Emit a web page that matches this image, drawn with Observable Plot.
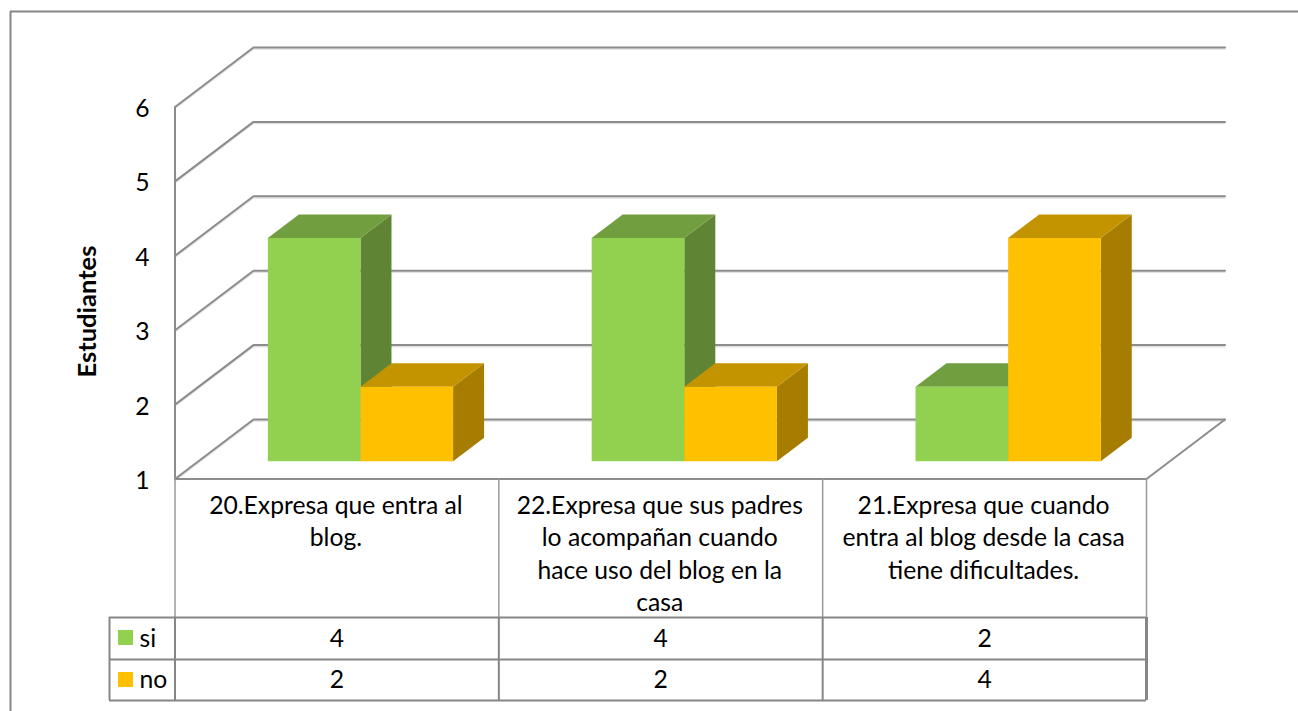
<!DOCTYPE html>
<html>
<head>
<meta charset="utf-8">
<script src="https://cdn.jsdelivr.net/npm/d3@7"></script>
<script src="https://cdn.jsdelivr.net/npm/@observablehq/plot@0.6"></script>
<style>
html,body{margin:0;padding:0;background:#fff;}
svg{display:block;}
</style>
</head>
<body>
<div id="chart"></div>
<script>
const categories = [
  "20.Expresa que entra al\nblog.",
  "22.Expresa que sus padres\nlo acompañan cuando\nhace uso del blog en la\ncasa",
  "21.Expresa que cuando\nentra al blog desde la casa\ntiene dificultades."
];
const si = [4, 4, 2];
const no = [2, 2, 4];
const yTicks = [1, 2, 3, 4, 5, 6];
const seriesNames = ["si", "no"];

const W = 1298, H = 711;
const left = 174.5, right = 1146, top0 = 106.5, floorY = 478.5;
const UNIT = (floorY - top0) / 5, COL = (right - left) / 3;
// pseudo-3D projection: depth z in [0,1] shifts a point right and up
const DX = 78.5 / COL, DY = 59.5 / UNIT;
const P = (i, v, z = 0) => ({x: i + z * DX, y: v + z * DY});
const py = (px) => 1 + (floorY - px) / UNIT; // furniture position below the axis
const px = (p) => (p - left) / COL;

const GAP = 0.214, BAR = 0.286, Z0 = 0.3, Z1 = 0.695;
const BASE = 1;
const GRID = "#8c8c8c", EDGE = "#868686";
const FONT = "Lato, Carlito, Calibri, sans-serif";
const TEXT = 24.7;

const styles = [
  {values: si, front: "#92D050", topFace: "#719E3E", side: "#5F8534"},
  {values: no, front: "#FFC000", topFace: "#C49400", side: "#A67D00"}
];

function faces(values, s) {
  const top = [], side = [], front = [];
  values.forEach((v, i) => {
    const a = i + GAP + s * BAR, b = a + BAR;
    const id = String(i);
    front.push(...[P(a, BASE, Z0), P(b, BASE, Z0), P(b, v, Z0), P(a, v, Z0)].map(d => ({...d, id})));
    top.push(...[P(a, v, Z0), P(b, v, Z0), P(b, v, Z1), P(a, v, Z1)].map(d => ({...d, id})));
    side.push(...[P(b, BASE, Z0), P(b, BASE, Z1), P(b, v, Z1), P(b, v, Z0)].map(d => ({...d, id})));
  });
  return {top, side, front};
}

const barMarks = styles.flatMap((st, s) => {
  const f = faces(st.values, s);
  return [
    Plot.line(f.side, {x: "x", y: "y", z: "id", fill: st.side, stroke: null, curve: "linear-closed"}),
    Plot.line(f.top, {x: "x", y: "y", z: "id", fill: st.topFace, stroke: null, curve: "linear-closed"}),
    Plot.line(f.front, {x: "x", y: "y", z: "id", fill: st.front, stroke: null, curve: "linear-closed"})
  ];
});

const gridLines = yTicks.flatMap(v => [P(0, v, 0), P(0, v, 1), P(3, v, 1)].map(d => ({...d, id: v})));
const floorFront = [P(0, 1, 0), P(3, 1, 0), P(3, 1, 1)];

const colRules = [0, 1, 2, 3];
const rowTop = py(617), rowMid = py(659), rowBot = py(700);
const boxLeft = px(109), swatchL = px(118), swatchR = px(133), labelX = px(139);
const frameX = px(10), frameY = py(11), frameR = px(1298), frameB = py(711);

const plot = Plot.plot({
  width: W, height: H,
  marginLeft: left, marginRight: W - right, marginTop: top0, marginBottom: H - floorY,
  style: {background: "#fff", fontFamily: FONT},
  x: {domain: [0, 3], axis: null},
  y: {domain: [1, 6]},
  marks: [
    // outer frame
    Plot.ruleY([frameY], {x1: frameX, x2: frameR, stroke: EDGE, strokeWidth: 2}),
    Plot.ruleX([frameX], {y1: frameY, y2: frameB, stroke: EDGE, strokeWidth: 2}),
    // walls
    Plot.line(gridLines, {x: "x", y: "y", z: "id", stroke: "#e2e2e2", strokeWidth: 1.5, dy: 1.6}),
    Plot.line(gridLines, {x: "x", y: "y", z: "id", stroke: GRID, strokeWidth: 2}),
    Plot.line(floorFront, {x: "x", y: "y", stroke: GRID, strokeWidth: 2}),
    Plot.ruleX([0], {y1: 1, y2: 6, stroke: GRID, strokeWidth: 2}),
    // bars
    ...barMarks,
    // axis
    Plot.axisY({ticks: yTicks, tickSize: 0, tickPadding: 25.5, fontSize: TEXT, label: null, tickFormat: d3.format("d"), fill: "#000", dy: 2}),
    Plot.text(["Estudiantes"], {x: px(87), y: py(311), rotate: -90, fontWeight: "bold", fontSize: 25.5, fill: "#000", text: d => d}),
    // data table
    Plot.ruleX(colRules, {y1: 1, y2: rowTop, stroke: "#9a9a9a", strokeWidth: 1.5}),
    Plot.ruleX(colRules.slice(0, 3), {y1: rowTop, y2: rowBot, stroke: EDGE, strokeWidth: 2}),
    Plot.ruleX([3], {y1: rowTop, y2: rowBot, stroke: EDGE, strokeWidth: 3}),
    Plot.ruleX([boxLeft], {y1: rowTop, y2: rowBot, stroke: EDGE, strokeWidth: 2}),
    Plot.ruleY([rowTop, rowMid, rowBot], {x1: boxLeft, x2: 3, stroke: EDGE, strokeWidth: 2}),
    Plot.text(categories, {x: (d, i) => i + 0.5, y: py(490.5), dx: -1, text: d => d, lineAnchor: "top", lineHeight: 1.31, fontSize: TEXT, fill: "#000"}),
    Plot.text(si, {x: (d, i) => i + 0.5, y: py(639), text: d => String(d), fontSize: TEXT, fill: "#000"}),
    Plot.text(no, {x: (d, i) => i + 0.5, y: py(680), text: d => String(d), fontSize: TEXT, fill: "#000"}),
    // legend keys
    Plot.rect([0], {x1: swatchL, x2: swatchR, y1: py(630), y2: py(645), fill: "#92D050"}),
    Plot.rect([0], {x1: swatchL, x2: swatchR, y1: py(672), y2: py(687), fill: "#FFC000"}),
    Plot.text(seriesNames, {x: labelX, y: (d, i) => py(i ? 680 : 639), text: d => d, textAnchor: "start", fontSize: TEXT, fill: "#000"})
  ]
});
document.getElementById("chart").append(plot);
</script>
</body>
</html>
